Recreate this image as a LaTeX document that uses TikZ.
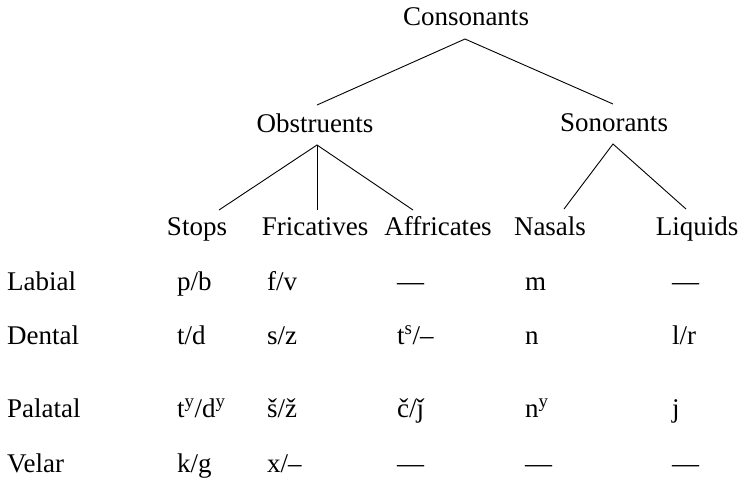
\documentclass[tikz,border=0pt]{standalone}
\usepackage{fontspec}
\setmainfont{Liberation Serif}
\begin{document}
\begin{tikzpicture}[x=1pt,y=-1pt,
  lbl/.style={inner sep=0pt,anchor=base,font=\fontsize{27}{32}\selectfont},
  cell/.style={inner sep=0pt,anchor=base west,font=\fontsize{27}{32}\selectfont},
  branch/.style={line width=0.9pt}]
\useasboundingbox (0,0) rectangle (747,480);
% tree labels
\node[lbl] (cons) at (466,25) {Consonants};
\node[lbl] (obs) at (315,132) {Obstruents};
\node[lbl] (son) at (614,131) {Sonorants};
\node[lbl] (stops) at (197,235) {Stops};
\node[lbl] (fric) at (315,235) {Fricatives};
\node[lbl] (affr) at (438,235) {Affricates};
\node[lbl] (nas) at (550,235) {Nasals};
\node[lbl] (liq) at (697,235) {Liquids};
% connector end points
\coordinate (consB) at (465,39);
\coordinate (obsT) at (317,105);
\coordinate (obsB) at (317,145);
\coordinate (sonT) at (613,104);
\coordinate (sonB) at (613,144);
\coordinate (stopsT) at (219,210);
\coordinate (fricT) at (317,210);
\coordinate (affrT) at (413,210);
\coordinate (nasT) at (564,209);
\coordinate (liqT) at (686,209);
\draw[branch] (obsT) -- (consB) -- (sonT);
\draw[branch] (stopsT) -- (obsB) -- (affrT);
\draw[branch] (obsB) -- (fricT);
\draw[branch] (nasT) -- (sonB) -- (liqT);
% row labels
\node[cell] (rLab) at (7,290) {Labial};
\node[cell] (rDen) at (7,344) {Dental};
\node[cell] (rPal) at (7,417) {Palatal};
\node[cell] (rVel) at (7,472) {Velar};
% Labial row
\node[cell] (a1) at (177,290) {p/b};
\node[cell] (a2) at (267,290) {f/v};
\node[cell] (a3) at (397,290) {—};
\node[cell] (a4) at (525,290) {m};
\node[cell] (a5) at (672,290) {—};
% Dental row
\node[cell] (b1) at (177,344) {t/d};
\node[cell] (b2) at (267,344) {s/z};
\node[cell] (b3) at (397,344) {t\textsuperscript{s}/–};
\node[cell] (b4) at (525,344) {n};
\node[cell] (b5) at (672,344) {l/r};
% Palatal row
\node[cell] (c1) at (177,417) {t\textsuperscript{y}/d\textsuperscript{y}};
\node[cell] (c2) at (267,417) {š/ž};
\node[cell] (c3) at (397,417) {č/ǰ};
\node[cell] (c4) at (525,417) {n\textsuperscript{y}};
\node[cell] (c5) at (672,417) {j};
% Velar row
\node[cell] (d1) at (177,472) {k/g};
\node[cell] (d2) at (267,472) {x/–};
\node[cell] (d3) at (397,472) {—};
\node[cell] (d4) at (525,472) {—};
\node[cell] (d5) at (672,472) {—};
\end{tikzpicture}
\end{document}
